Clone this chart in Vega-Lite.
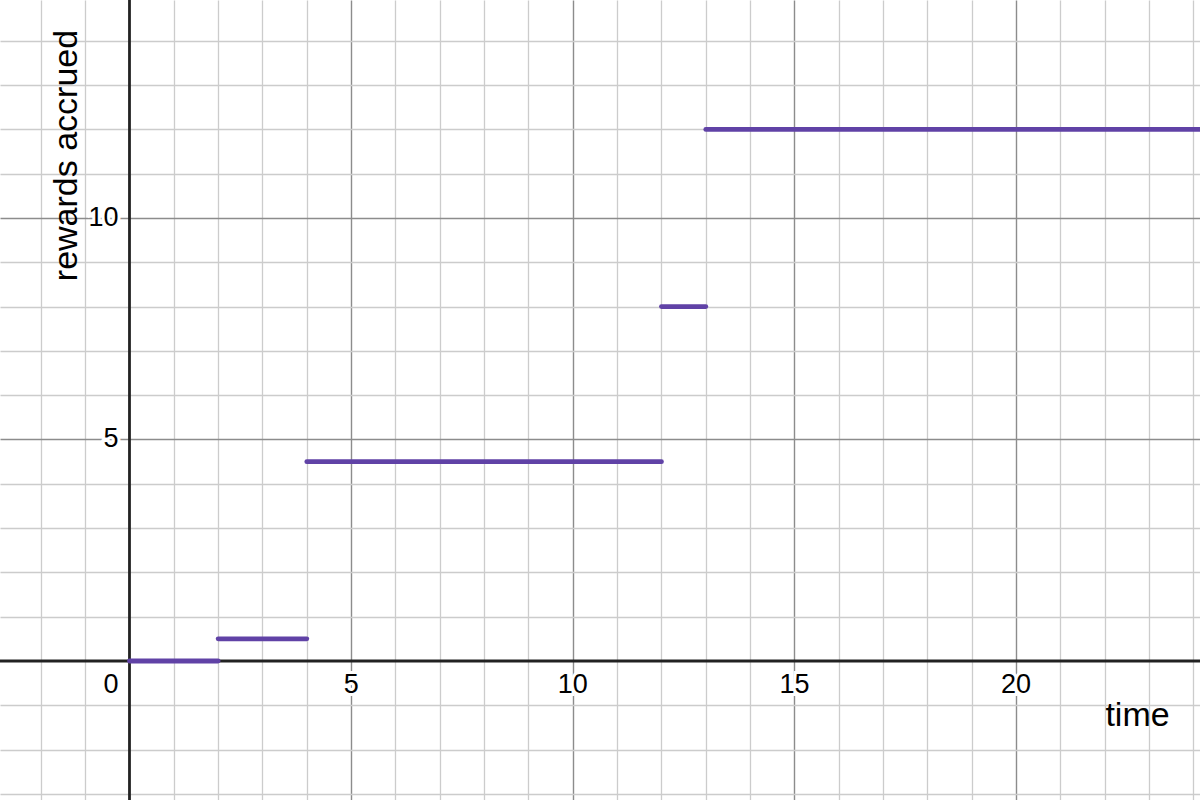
{
  "$schema": "https://vega.github.io/schema/vega-lite/v6.json",
  "width": 1200,
  "height": 800,
  "autosize": {"type": "none"},
  "padding": 0,
  "config": {"view": {"stroke": null}, "font": "Liberation Sans"},
  "datasets": {
    "steps": [
      {"start": 0, "end": 2, "reward": 0},
      {"start": 2, "end": 4, "reward": 0.5},
      {"start": 4, "end": 12, "reward": 4.5},
      {"start": 12, "end": 13, "reward": 8},
      {"start": 13, "end": 24.5, "reward": 12}
    ],
    "xticks": [
      {"t": 5, "lab": "5"},
      {"t": 10, "lab": "10"},
      {"t": 15, "lab": "15"},
      {"t": 20, "lab": "20"}
    ],
    "yticks": [
      {"t": 5, "lab": "5"},
      {"t": 10, "lab": "10"}
    ],
    "origin": [{"t": 0, "lab": "0"}]
  },
  "resolve": {"axis": {"x": "independent", "y": "independent"}},
  "layer": [
    {
      "data": {"name": "steps"},
      "mark": {"type": "point", "opacity": 0},
      "encoding": {
        "x": {
          "field": "start",
          "type": "quantitative",
          "scale": {"domain": [-2.921, 24.148], "nice": false, "zero": false},
          "axis": {
            "values": [-2, -1, 1, 2, 3, 4, 6, 7, 8, 9, 11, 12, 13, 14, 16, 17, 18, 19, 21, 22, 23, 24],
            "grid": true, "gridColor": "#cccccc", "gridWidth": 1.3,
            "domain": false, "ticks": false, "labels": false,
            "title": "time", "titleX": 1137, "titleY": -75,
            "titleBaseline": "alphabetic", "titleAlign": "center",
            "titleFontSize": 34, "titleFontWeight": "normal", "titleColor": "#000000",
            "zindex": 0
          }
        },
        "y": {
          "field": "reward",
          "type": "quantitative",
          "scale": {"domain": [-3.138, 14.921], "nice": false, "zero": false},
          "axis": {
            "values": [-3, -2, -1, 1, 2, 3, 4, 6, 7, 8, 9, 11, 12, 13, 14],
            "grid": true, "gridColor": "#cccccc", "gridWidth": 1.3,
            "domain": false, "ticks": false, "labels": false,
            "title": "rewards accrued", "titleX": 76, "titleY": 155, "titleAngle": -90,
            "titleBaseline": "alphabetic", "titleAlign": "center",
            "titleFontSize": 34, "titleFontWeight": "normal", "titleColor": "#000000",
            "zindex": 0
          }
        }
      }
    },
    {
      "data": {"name": "steps"},
      "mark": {"type": "point", "opacity": 0},
      "encoding": {
        "x": {
          "field": "start", "type": "quantitative",
          "axis": {
            "values": [5, 10, 15, 20], "grid": true, "gridColor": "#8c8c8c", "gridWidth": 1.4,
            "domain": false, "ticks": false, "labels": false, "title": null, "zindex": 0
          }
        },
        "y": {
          "field": "reward", "type": "quantitative",
          "axis": {
            "values": [5, 10], "grid": true, "gridColor": "#8c8c8c", "gridWidth": 1.4,
            "domain": false, "ticks": false, "labels": false, "title": null, "zindex": 0
          }
        }
      }
    },
    {
      "data": {"name": "origin"},
      "mark": {"type": "rule", "color": "#222222", "strokeWidth": 2.8},
      "encoding": {"x": {"field": "t", "type": "quantitative", "axis": null}}
    },
    {
      "data": {"name": "origin"},
      "mark": {"type": "rule", "color": "#222222", "strokeWidth": 2.8},
      "encoding": {"y": {"field": "t", "type": "quantitative", "axis": null}}
    },
    {
      "data": {"name": "steps"},
      "mark": {"type": "rule", "color": "#6042a6", "strokeWidth": 4.8, "strokeCap": "round", "clip": true},
      "encoding": {
        "x": {"field": "start", "type": "quantitative", "axis": null},
        "x2": {"field": "end"},
        "y": {"field": "reward", "type": "quantitative", "axis": null}
      }
    },
    {
      "data": {"name": "xticks"},
      "mark": {"type": "text", "fontSize": 27, "baseline": "alphabetic", "dy": 32, "stroke": "#ffffff", "strokeWidth": 6, "fill": "#ffffff"},
      "encoding": {
        "x": {"field": "t", "type": "quantitative", "axis": null},
        "y": {"datum": 0, "type": "quantitative", "axis": null},
        "text": {"field": "lab"}
      }
    },
    {
      "data": {"name": "xticks"},
      "mark": {"type": "text", "fontSize": 27, "baseline": "alphabetic", "dy": 32, "color": "#000000"},
      "encoding": {
        "x": {"field": "t", "type": "quantitative", "axis": null},
        "y": {"datum": 0, "type": "quantitative", "axis": null},
        "text": {"field": "lab"}
      }
    },
    {
      "data": {"name": "yticks"},
      "mark": {"type": "text", "fontSize": 27, "baseline": "middle", "align": "right", "dx": -11, "stroke": "#ffffff", "strokeWidth": 6, "fill": "#ffffff"},
      "encoding": {
        "x": {"datum": 0, "type": "quantitative", "axis": null},
        "y": {"field": "t", "type": "quantitative", "axis": null},
        "text": {"field": "lab"}
      }
    },
    {
      "data": {"name": "yticks"},
      "mark": {"type": "text", "fontSize": 27, "baseline": "middle", "align": "right", "dx": -11, "color": "#000000"},
      "encoding": {
        "x": {"datum": 0, "type": "quantitative", "axis": null},
        "y": {"field": "t", "type": "quantitative", "axis": null},
        "text": {"field": "lab"}
      }
    },
    {
      "data": {"name": "origin"},
      "mark": {"type": "text", "fontSize": 27, "baseline": "alphabetic", "align": "right", "dx": -11, "dy": 32, "stroke": "#ffffff", "strokeWidth": 6, "fill": "#ffffff"},
      "encoding": {
        "x": {"field": "t", "type": "quantitative", "axis": null},
        "y": {"field": "t", "type": "quantitative", "axis": null},
        "text": {"field": "lab"}
      }
    },
    {
      "data": {"name": "origin"},
      "mark": {"type": "text", "fontSize": 27, "baseline": "alphabetic", "align": "right", "dx": -11, "dy": 32, "color": "#000000"},
      "encoding": {
        "x": {"field": "t", "type": "quantitative", "axis": null},
        "y": {"field": "t", "type": "quantitative", "axis": null},
        "text": {"field": "lab"}
      }
    }
  ]
}
